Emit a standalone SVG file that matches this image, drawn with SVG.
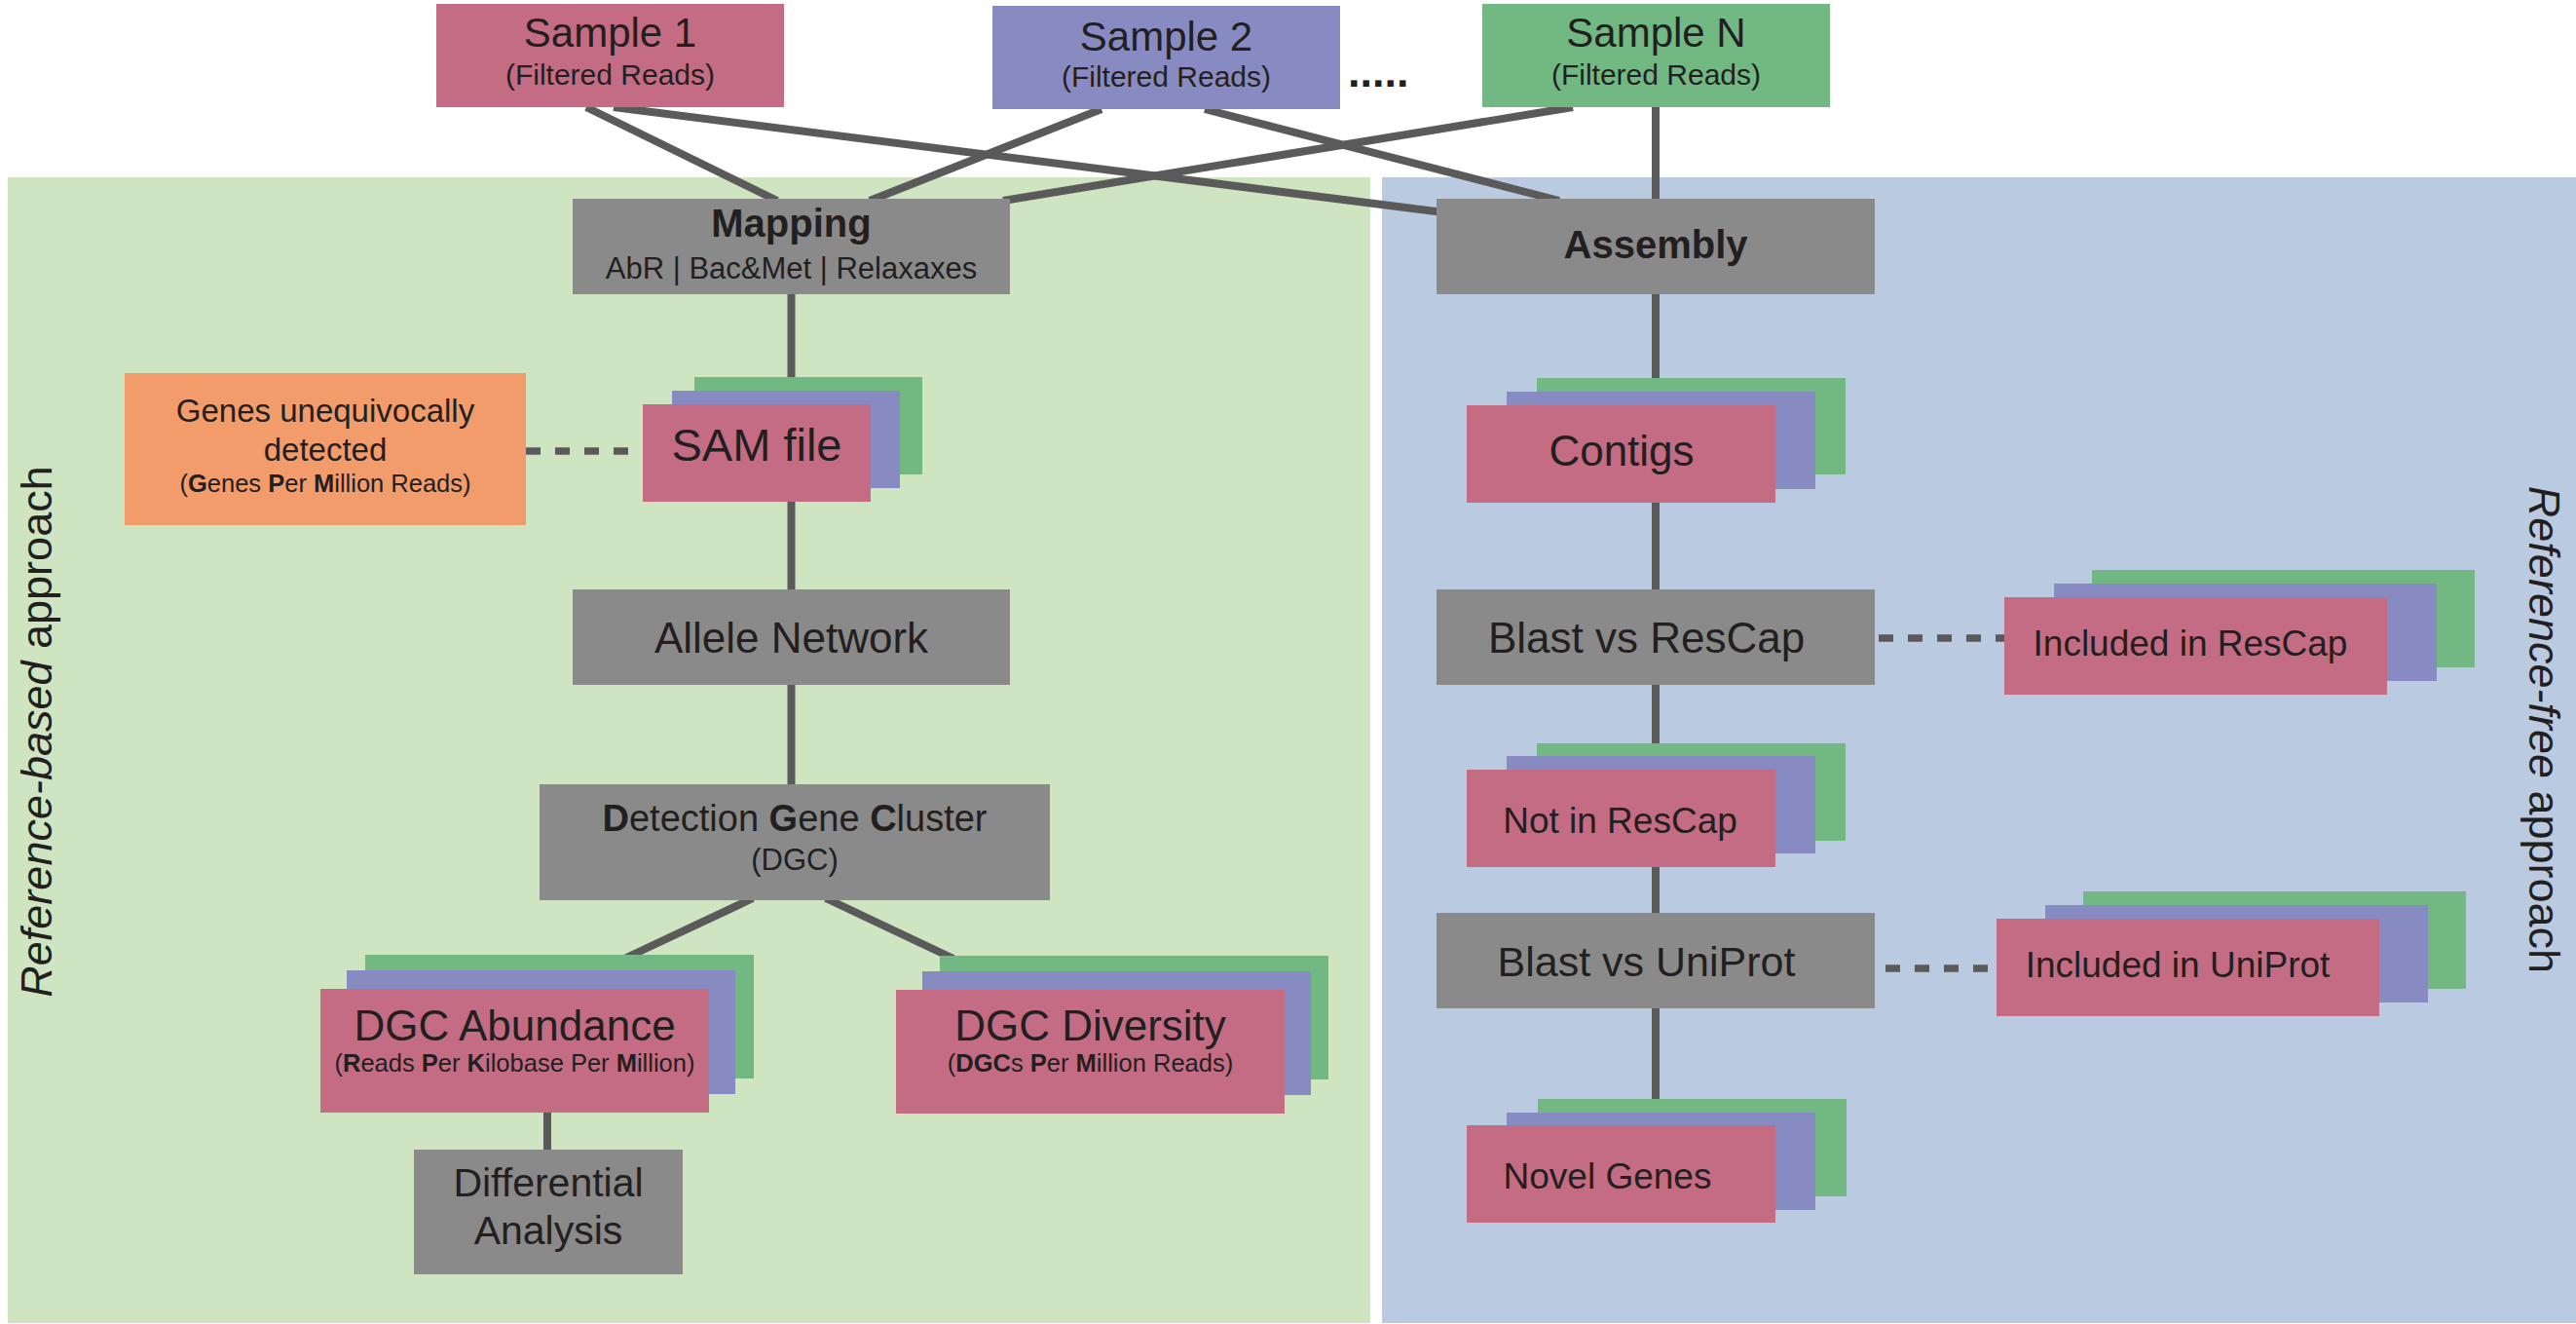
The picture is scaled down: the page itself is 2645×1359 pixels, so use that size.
<svg xmlns="http://www.w3.org/2000/svg" width="2645" height="1359" viewBox="0 0 2645 1359">
<style>
text{font-family:"Liberation Sans",Arial,Helvetica,sans-serif;fill:#231f20;text-anchor:middle}
.pk{fill:#c46c84}.pu{fill:#888bc2}.gr{fill:#71b882}.gy{fill:#8a8a8a}.or{fill:#f29b6b}
.ln{stroke:#5a5a5a;stroke-width:8;fill:none}
.dl{stroke:#5a5a5a;stroke-width:7.5;fill:none;stroke-dasharray:15 15}
.b{font-weight:bold}
.i{font-style:italic}
</style>
<rect x="0" y="0" width="2645" height="1359" fill="#ffffff"/>
<g id="panels">
<rect x="8" y="182" width="1399" height="1176" fill="#cfe4c0"/>
<rect x="1419" y="182" width="1226" height="1176" fill="#bacbe1"/>
</g>
<g id="labels">
<text x="53" y="751" font-size="45" transform="rotate(-90 53 751)"><tspan class="i">Reference-based</tspan> approach</text>
<text x="2597" y="749" font-size="45" transform="rotate(90 2597 749)"><tspan class="i">Reference-free</tspan> approach</text>
<text x="1384" y="89" font-size="45" class="b" style="text-anchor:start">.....</text>
</g>
<g id="connectors">
<line class="ln" x1="602" y1="110" x2="798" y2="206"/>
<line class="ln" x1="630" y1="110" x2="1490" y2="219"/>
<line class="ln" x1="1131" y1="112" x2="893" y2="206"/>
<line class="ln" x1="1237" y1="112" x2="1601" y2="206"/>
<line class="ln" x1="1615" y1="110" x2="1030" y2="206"/>
<line class="ln" x1="1700" y1="110" x2="1700" y2="206"/>
<line class="ln" x1="812.5" y1="302" x2="812.5" y2="420"/>
<line class="ln" x1="812.5" y1="510" x2="812.5" y2="607"/>
<line class="ln" x1="812.5" y1="700" x2="812.5" y2="807"/>
<line class="ln" x1="773" y1="922" x2="641" y2="984"/>
<line class="ln" x1="848" y1="922" x2="979" y2="984"/>
<line class="ln" x1="562" y1="1140" x2="562" y2="1182"/>
<line class="ln" x1="1700" y1="300" x2="1700" y2="392"/>
<line class="ln" x1="1700" y1="512" x2="1700" y2="607"/>
<line class="ln" x1="1700" y1="700" x2="1700" y2="767"/>
<line class="ln" x1="1700" y1="886" x2="1700" y2="939"/>
<line class="ln" x1="1700" y1="1033" x2="1700" y2="1132"/>
<line class="dl" x1="540" y1="463" x2="646" y2="463"/>
<line class="dl" x1="1929" y1="655" x2="2058" y2="655"/>
<line class="dl" x1="1936" y1="994" x2="2050" y2="994"/>
</g>
<g id="sample1">
<rect class="pk" x="448" y="4" width="357" height="106"/>
<text x="626.5" y="48" font-size="42">Sample 1</text>
<text x="626.5" y="87" font-size="30">(Filtered Reads)</text>
</g>
<g id="sample2">
<rect class="pu" x="1019" y="6" width="357" height="106"/>
<text x="1197.5" y="52" font-size="42">Sample 2</text>
<text x="1197.5" y="89" font-size="30">(Filtered Reads)</text>
</g>
<g id="sampleN">
<rect class="gr" x="1522" y="4" width="357" height="106"/>
<text x="1700.5" y="48" font-size="42">Sample N</text>
<text x="1700.5" y="87" font-size="30">(Filtered Reads)</text>
</g>
<g id="mapping">
<rect class="gy" x="588" y="204" width="449" height="98"/>
<text x="812.5" y="243" font-size="40" class="b">Mapping</text>
<text x="812.5" y="286" font-size="31">AbR | Bac&amp;Met | Relaxaxes</text>
</g>
<g id="assembly">
<rect class="gy" x="1475" y="204" width="450" height="98"/>
<text x="1700" y="265" font-size="40" class="b">Assembly</text>
</g>
<g id="genes-detected">
<rect class="or" x="128" y="383" width="412" height="156"/>
<text x="334" y="433" font-size="33">Genes unequivocally</text>
<text x="334" y="473" font-size="33">detected</text>
<text x="334" y="505" font-size="25.5">(<tspan class="b">G</tspan>enes <tspan class="b">P</tspan>er <tspan class="b">M</tspan>illion Reads)</text>
</g>
<g id="sam-file">
<rect class="gr" x="713" y="387" width="234" height="100"/>
<rect class="pu" x="690" y="401" width="234" height="100"/>
<rect class="pk" x="660" y="415" width="234" height="100"/>
<text x="777" y="473" font-size="47">SAM file</text>
</g>
<g id="allele-network">
<rect class="gy" x="588" y="605" width="449" height="98"/>
<text x="812.5" y="670" font-size="44">Allele Network</text>
</g>
<g id="dgc">
<rect class="gy" x="554" y="805" width="524" height="119"/>
<text x="816" y="853" font-size="38"><tspan class="b">D</tspan>etection <tspan class="b">G</tspan>ene <tspan class="b">C</tspan>luster</text>
<text x="816" y="893" font-size="31">(DGC)</text>
</g>
<g id="dgc-abundance">
<rect class="gr" x="375" y="980" width="399" height="127"/>
<rect class="pu" x="356" y="996" width="399" height="127"/>
<rect class="pk" x="329" y="1015" width="399" height="127"/>
<text x="528.5" y="1068" font-size="44">DGC Abundance</text>
<text x="528.5" y="1100" font-size="25.5">(<tspan class="b">R</tspan>eads <tspan class="b">P</tspan>er <tspan class="b">K</tspan>ilobase Per <tspan class="b">M</tspan>illion)</text>
</g>
<g id="dgc-diversity">
<rect class="gr" x="965" y="981" width="399" height="127"/>
<rect class="pu" x="947" y="997" width="399" height="127"/>
<rect class="pk" x="920" y="1016" width="399" height="127"/>
<text x="1119.5" y="1068" font-size="44">DGC Diversity</text>
<text x="1119.5" y="1100" font-size="25.5">(<tspan class="b">DGC</tspan>s <tspan class="b">P</tspan>er <tspan class="b">M</tspan>illion Reads)</text>
</g>
<g id="differential-analysis">
<rect class="gy" x="425" y="1180" width="276" height="128"/>
<text x="563" y="1228" font-size="41">Differential</text>
<text x="563" y="1277" font-size="41">Analysis</text>
</g>
<g id="contigs">
<rect class="gr" x="1578" y="388" width="317" height="99"/>
<rect class="pu" x="1547" y="402" width="317" height="100"/>
<rect class="pk" x="1506" y="416" width="317" height="100"/>
<text x="1665" y="478" font-size="44">Contigs</text>
</g>
<g id="blast-rescap">
<rect class="gy" x="1475" y="605" width="450" height="98"/>
<text x="1690.5" y="670" font-size="44">Blast vs ResCap</text>
</g>
<g id="included-rescap">
<rect class="gr" x="2148" y="585" width="393" height="100"/>
<rect class="pu" x="2109" y="599" width="393" height="100"/>
<rect class="pk" x="2058" y="613" width="393" height="100"/>
<text x="2249" y="673" font-size="37">Included in ResCap</text>
</g>
<g id="not-in-rescap">
<rect class="gr" x="1578" y="763" width="317" height="100"/>
<rect class="pu" x="1547" y="776" width="317" height="100"/>
<rect class="pk" x="1506" y="790" width="317" height="100"/>
<text x="1663.5" y="855" font-size="37">Not in ResCap</text>
</g>
<g id="blast-uniprot">
<rect class="gy" x="1475" y="937" width="450" height="98"/>
<text x="1690.5" y="1002" font-size="43">Blast vs UniProt</text>
</g>
<g id="included-uniprot">
<rect class="gr" x="2139" y="915" width="393" height="100"/>
<rect class="pu" x="2100" y="929" width="393" height="100"/>
<rect class="pk" x="2050" y="943" width="393" height="100"/>
<text x="2236" y="1003" font-size="37">Included in UniProt</text>
</g>
<g id="novel-genes">
<rect class="gr" x="1579" y="1128" width="317" height="100"/>
<rect class="pu" x="1547" y="1142" width="317" height="100"/>
<rect class="pk" x="1506" y="1155" width="317" height="100"/>
<text x="1650.5" y="1220" font-size="37">Novel Genes</text>
</g>
</svg>
